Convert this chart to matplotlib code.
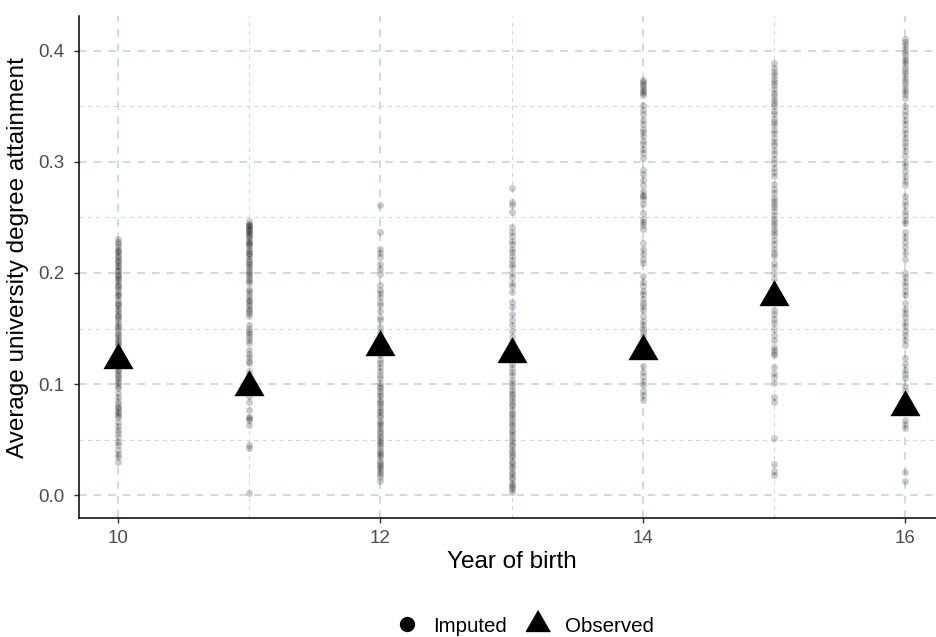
import matplotlib
matplotlib.use("Agg")
import matplotlib.pyplot as plt
from matplotlib.lines import Line2D
from matplotlib.ticker import MultipleLocator

plt.rcParams["font.family"] = ["Liberation Sans", "DejaVu Sans"]
plt.rcParams["lines.scale_dashes"] = False

# Imputed estimates by year of birth
years = [10, 11, 12, 13, 14, 15, 16]
imputed_10 = [0.231, 0.228, 0.226, 0.223, 0.221, 0.220, 0.218, 0.215, 0.214, 0.212, 0.211, 0.209,
              0.206, 0.205, 0.203, 0.202, 0.199, 0.198, 0.196, 0.195, 0.193, 0.190, 0.188, 0.187,
              0.185, 0.182, 0.180, 0.179, 0.176, 0.173, 0.172, 0.170, 0.168, 0.166, 0.163, 0.161,
              0.160, 0.158, 0.155, 0.152, 0.151, 0.149, 0.146, 0.144, 0.142, 0.140, 0.138, 0.136,
              0.134, 0.116, 0.113, 0.112, 0.109, 0.107, 0.105, 0.103, 0.101, 0.098, 0.096, 0.092,
              0.088, 0.085, 0.082, 0.079, 0.078, 0.076, 0.074, 0.072, 0.070, 0.066, 0.062, 0.059,
              0.056, 0.052, 0.048, 0.045, 0.041, 0.037, 0.034, 0.030]
imputed_11 = [0.247, 0.244, 0.243, 0.242, 0.241, 0.240, 0.239, 0.238, 0.236, 0.235, 0.233, 0.232,
              0.230, 0.228, 0.227, 0.226, 0.224, 0.222, 0.220, 0.218, 0.217, 0.215, 0.213, 0.211,
              0.209, 0.207, 0.205, 0.203, 0.201, 0.199, 0.197, 0.195, 0.193, 0.191, 0.186, 0.184,
              0.181, 0.178, 0.176, 0.175, 0.172, 0.170, 0.168, 0.166, 0.164, 0.161, 0.153, 0.150,
              0.147, 0.145, 0.142, 0.140, 0.137, 0.131, 0.127, 0.124, 0.121, 0.119, 0.112, 0.108,
              0.104, 0.101, 0.089, 0.084, 0.077, 0.070, 0.069, 0.068, 0.063, 0.045, 0.042, 0.002]
imputed_12 = [0.261, 0.237, 0.222, 0.218, 0.214, 0.208, 0.204, 0.199, 0.189, 0.185, 0.182, 0.178,
              0.174, 0.171, 0.166, 0.160, 0.158, 0.151, 0.147, 0.143, 0.140, 0.126, 0.122, 0.119,
              0.115, 0.112, 0.108, 0.105, 0.101, 0.098, 0.096, 0.094, 0.091, 0.089, 0.086, 0.084,
              0.082, 0.079, 0.077, 0.075, 0.072, 0.070, 0.067, 0.065, 0.063, 0.060, 0.058, 0.056,
              0.053, 0.051, 0.049, 0.047, 0.045, 0.042, 0.040, 0.038, 0.036, 0.034, 0.031, 0.029,
              0.027, 0.025, 0.023, 0.021, 0.019, 0.016, 0.013]
imputed_13 = [0.277, 0.264, 0.261, 0.255, 0.241, 0.237, 0.233, 0.229, 0.226, 0.222, 0.219, 0.215,
              0.212, 0.208, 0.205, 0.200, 0.196, 0.191, 0.188, 0.183, 0.174, 0.169, 0.163, 0.158,
              0.153, 0.148, 0.142, 0.138, 0.118, 0.114, 0.111, 0.108, 0.104, 0.101, 0.098, 0.095,
              0.092, 0.090, 0.087, 0.085, 0.082, 0.080, 0.077, 0.074, 0.072, 0.069, 0.067, 0.064,
              0.062, 0.059, 0.057, 0.054, 0.051, 0.049, 0.046, 0.044, 0.041, 0.039, 0.036, 0.034,
              0.031, 0.029, 0.026, 0.024, 0.021, 0.019, 0.016, 0.014, 0.011, 0.009, 0.007, 0.005,
              0.003]
imputed_14 = [0.374, 0.372, 0.370, 0.368, 0.366, 0.364, 0.362, 0.360, 0.351, 0.347, 0.343, 0.338,
              0.334, 0.330, 0.327, 0.323, 0.319, 0.316, 0.312, 0.308, 0.304, 0.293, 0.289, 0.284,
              0.279, 0.274, 0.270, 0.269, 0.267, 0.262, 0.254, 0.249, 0.246, 0.243, 0.240, 0.227,
              0.222, 0.217, 0.213, 0.209, 0.197, 0.192, 0.188, 0.184, 0.181, 0.177, 0.173, 0.170,
              0.167, 0.161, 0.157, 0.153, 0.150, 0.147, 0.143, 0.138, 0.135, 0.116, 0.111, 0.107,
              0.103, 0.099, 0.094, 0.090, 0.086]
imputed_15 = [0.389, 0.385, 0.381, 0.378, 0.375, 0.372, 0.369, 0.366, 0.362, 0.359, 0.356, 0.353,
              0.350, 0.346, 0.343, 0.339, 0.336, 0.333, 0.329, 0.326, 0.322, 0.318, 0.315, 0.311,
              0.307, 0.303, 0.299, 0.295, 0.291, 0.287, 0.280, 0.276, 0.272, 0.268, 0.265, 0.262,
              0.259, 0.256, 0.252, 0.249, 0.246, 0.243, 0.240, 0.237, 0.234, 0.230, 0.226, 0.222,
              0.218, 0.215, 0.209, 0.205, 0.200, 0.195, 0.167, 0.163, 0.159, 0.155, 0.150, 0.144,
              0.140, 0.133, 0.131, 0.128, 0.126, 0.115, 0.110, 0.106, 0.101, 0.088, 0.084, 0.051,
              0.028, 0.022, 0.018]
imputed_16 = [0.411, 0.408, 0.405, 0.402, 0.399, 0.396, 0.393, 0.391, 0.388, 0.385, 0.382, 0.379,
              0.376, 0.373, 0.370, 0.367, 0.364, 0.361, 0.358, 0.350, 0.346, 0.342, 0.338, 0.334,
              0.330, 0.326, 0.322, 0.318, 0.314, 0.310, 0.305, 0.300, 0.296, 0.292, 0.287, 0.283,
              0.279, 0.269, 0.265, 0.261, 0.256, 0.252, 0.248, 0.245, 0.237, 0.232, 0.228, 0.223,
              0.218, 0.213, 0.200, 0.196, 0.192, 0.188, 0.184, 0.180, 0.173, 0.168, 0.164, 0.160,
              0.156, 0.152, 0.148, 0.144, 0.140, 0.135, 0.123, 0.118, 0.113, 0.109, 0.105, 0.098,
              0.094, 0.086, 0.075, 0.068, 0.064, 0.060, 0.021, 0.013]
imputed = [imputed_10, imputed_11, imputed_12, imputed_13, imputed_14, imputed_15, imputed_16]

# Observed averages
observed = [0.122, 0.097, 0.133, 0.127, 0.130, 0.178, 0.079]

x_ticks = [10, 12, 14, 16]
y_ticks = [0.0, 0.1, 0.2, 0.3, 0.4]

grid_color = "#cadce4"
tri = [(0, 1), (-0.866, -0.5), (0.866, -0.5)]

fig = plt.figure(figsize=(9.36, 6.37), dpi=100)
ax = fig.add_axes([79 / 936, 1 - 518 / 637, (944 - 79) / 936, (518 - 16) / 637])

for yr, vals in zip(years, imputed):
    ax.scatter([yr] * len(vals), vals, s=25, color="black", alpha=0.2,
               linewidths=0, zorder=2)
ax.scatter(years, observed, marker=tri, s=25 ** 2, color="black",
           linewidths=0, zorder=3)

ax.set_xlim(9.7, 16.3)
ax.set_ylim(-0.0207, 0.4315)
ax.set_xticks(x_ticks)
ax.set_yticks(y_ticks)
ax.set_xticklabels([str(t) for t in x_ticks])
ax.set_yticklabels([f"{t:.1f}" for t in y_ticks])
ax.xaxis.set_minor_locator(MultipleLocator(1))
ax.yaxis.set_minor_locator(MultipleLocator(0.05))

ax.set_axisbelow(True)
ax.grid(which="major", color=grid_color, linewidth=1.4, linestyle=(0, (5.5, 5)))
ax.grid(which="minor", color=grid_color, linewidth=0.8, linestyle=(0, (3, 3)))

for side in ("top", "right"):
    ax.spines[side].set_visible(False)
for side in ("left", "bottom"):
    ax.spines[side].set_linewidth(1.1)
    ax.spines[side].set_color("black")

ax.tick_params(which="major", length=3.5, width=1.0, color="#333333",
               labelsize=13.5, labelcolor="#4d4d4d")
ax.tick_params(axis="y", which="major", pad=7)
ax.tick_params(axis="x", which="major", pad=5)
ax.tick_params(which="minor", length=0)

ax.set_xlabel("Year of birth", fontsize=17.5, labelpad=3)
ax.set_ylabel("Average university degree attainment", fontsize=17.5)
ax.yaxis.set_label_coords(-50 / 865, 0.518)

handles = [
    Line2D([], [], linestyle="none", marker="o", markersize=10, color="black"),
    Line2D([], [], linestyle="none", marker=tri, markersize=20, color="black"),
]
fig.legend(handles, ["Imputed", "Observed"], loc="center",
           bbox_to_anchor=(524 / 936, 1 - 626 / 637), ncol=2, frameon=False,
           fontsize=14.8, handlelength=1.2, handletextpad=0.7, columnspacing=0.9)

fig.savefig("out.png", dpi=100)
